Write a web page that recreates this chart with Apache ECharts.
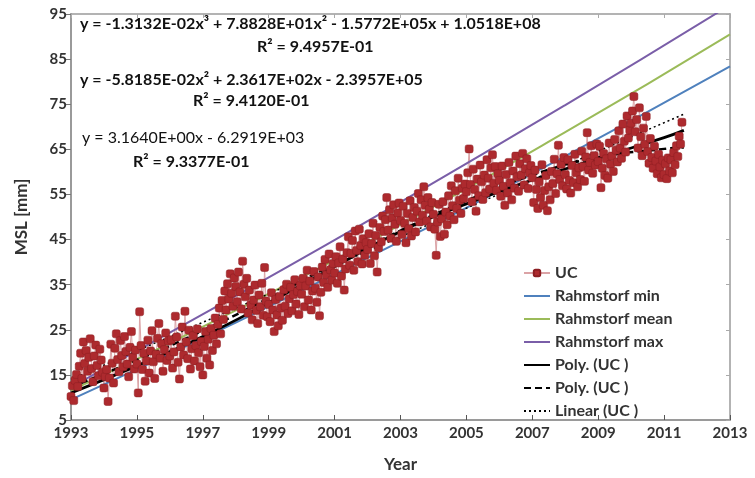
<!DOCTYPE html>
<html>
<head>
<meta charset="utf-8">
<script src="https://cdn.jsdelivr.net/npm/echarts@6/dist/echarts.min.js"></script>
<style>
    html, body { margin: 0; padding: 0; background: #fff; }
    #main { width: 755px; height: 478px; }
</style>
</head>
<body>
<div id="main"></div>
<script>
    // UC series: 24 samples a year from 1993.0
    var ucStart = 1993;
    var ucPerYear = 24;
    var ucValues = [
        10.2, 12.6, 9.3, 13.8, 15.1, 12.4, 16.9, 19.8, 14.2, 22.3, 17.5, 20.4, 15.8, 18.9, 23.0, 16.4, 13.5, 19.2, 21.6, 17.1, 14.8, 20.7, 18.3, 15.6,
        12.1, 14.6, 16.2, 9.1, 14.3, 21.8, 17.6, 13.2, 20.9, 24.1, 18.4, 15.7, 22.6, 19.3, 16.8, 23.5, 20.2, 17.4, 14.6, 21.1, 24.6, 18.9, 16.3, 20.5,
        17.4, 11.0, 29.0, 21.5, 16.2, 19.8, 13.6, 18.1, 22.7, 15.4, 20.3, 24.8, 17.9, 14.2, 19.6, 23.1, 26.4, 18.7, 21.9, 15.8, 20.6, 24.3, 18.2, 22.5,
        19.2, 22.8, 16.5, 20.1, 28.0, 23.4, 17.8, 14.1, 21.2, 25.6, 19.4, 29.1, 22.3, 18.6, 24.9, 16.3, 20.8, 23.7, 18.1, 21.5, 25.2, 19.9, 16.8, 22.4,
        15.0, 21.3, 24.6, 18.7, 22.9, 17.2, 25.3, 20.4, 23.8, 27.6, 21.9, 26.2, 29.8, 24.1, 31.5, 27.3, 33.6, 29.4, 35.2, 31.8, 37.4, 33.1, 30.2, 36.5,
        34.6, 31.2, 37.8, 33.4, 29.6, 40.2, 35.1, 32.3, 36.4, 28.7, 33.8, 30.5, 27.2, 31.6, 34.9, 29.3, 26.4, 32.7, 30.1, 35.3, 28.2, 38.8, 31.4, 27.9,
        30.6, 26.8, 33.2, 29.4, 24.6, 31.7, 28.3, 25.9, 32.4, 29.8, 27.1, 33.9, 30.2, 35.1, 28.6, 31.9, 34.4, 29.2, 32.8, 36.1, 30.7, 33.5, 28.4, 34.8,
        32.9, 36.4, 30.1, 34.7, 38.2, 31.6, 35.8, 29.4, 33.6, 37.9, 34.2, 31.1, 36.7, 28.1, 33.3, 38.9, 35.5, 40.6, 37.2, 34.4, 41.8, 38.3, 36.0, 39.7,
        37.6, 41.2, 35.3, 39.8, 43.4, 36.9, 40.7, 33.8, 38.5, 42.1, 45.6, 39.3, 41.9, 44.8, 38.2, 46.9, 42.6, 40.1, 47.3, 43.7, 39.6, 45.2, 41.5, 44.3,
        42.8, 46.3, 39.7, 44.1, 48.6, 41.4, 45.9, 37.8, 43.2, 47.7, 44.5, 50.2, 46.8, 49.4, 54.3, 47.1, 51.6, 45.3, 49.8, 52.7, 48.4, 44.6, 50.9, 53.1,
        49.2, 46.1, 52.4, 48.6, 44.3, 50.8, 47.4, 53.6, 45.8, 49.9, 52.1, 46.7, 51.3, 55.2, 48.9, 53.8, 50.4, 56.7, 52.6, 49.1, 54.3, 51.7, 47.8, 53.2,
        50.6, 47.3, 41.5, 48.9, 52.8, 45.7, 49.6, 53.4, 46.2, 51.1, 48.3, 54.7, 50.2, 56.9, 52.5, 49.4, 55.8, 51.9, 58.6, 53.7, 50.8, 56.4, 54.1, 57.3,
        55.6, 59.8, 65.1, 57.2, 53.4, 60.6, 56.1, 51.3, 58.4, 54.7, 61.5, 57.8, 53.9, 59.3, 55.4, 62.7, 58.6, 56.2, 60.9, 63.8, 57.5, 61.2, 55.9, 59.6,
        58.1, 54.6, 61.3, 56.8, 52.6, 59.4, 55.3, 62.1, 57.6, 53.8, 60.2, 56.4, 63.5, 58.9, 55.7, 61.8, 59.3, 64.1, 57.1, 60.7, 62.9, 56.3, 59.8, 61.4,
        58.7, 53.2, 60.4, 56.1, 51.9, 57.8, 54.3, 61.6, 52.6, 55.9, 59.2, 51.4, 56.7, 53.8, 60.1, 57.4, 62.8, 55.2, 59.6, 65.9, 58.3, 61.7, 56.9, 63.2,
        59.4, 56.2, 62.7, 58.1, 55.3, 61.4, 57.6, 63.9, 59.8, 56.7, 60.9, 58.3, 64.6, 61.2, 57.9, 63.3, 68.7, 60.4, 62.1, 65.8, 59.7, 63.6, 61.5, 66.2,
        62.3, 65.7, 56.5, 60.8, 64.1, 59.2, 62.9, 58.6, 66.4, 61.7, 63.5, 60.1, 67.2, 64.8, 62.2, 69.1, 65.3, 63.0, 70.6, 66.8, 64.4, 72.4, 67.5, 69.3,
        70.8, 73.5, 76.7, 68.9, 71.6, 65.3, 74.2, 67.8, 63.6, 69.7, 66.1, 72.3, 64.5, 61.9, 67.4, 63.2, 60.8, 65.7, 62.4, 59.6, 63.9, 61.1, 58.7, 62.6,
        59.4, 61.8, 58.5, 63.1, 60.2, 62.7, 59.8, 64.3, 61.6, 65.8, 63.4, 67.9, 66.2, 71.0
    ];

    // Rahmstorf projections
    var rahmYears = [1993, 1998, 2003, 2008, 2013];
    var rahmMin = [9.5, 26.6, 44.6, 63.5, 83.4];
    var rahmMean = [11.5, 29.3, 48.3, 68.8, 90.5];
    var rahmMax = [12.3, 32.5, 53.3, 74.8, 97.0];

    // trend lines
    var fitYears = [1993, 1995, 1997, 1999, 2001, 2003, 2005, 2007, 2009, 2011, 2011.6];
    var polyCubic = [11.0, 17.0, 23.5, 31.0, 39.0, 46.8, 52.9, 58.2, 63.0, 67.6, 69.2];
    var polyQuad = [12.3, 18.3, 24.8, 32.0, 39.6, 47.0, 53.6, 59.3, 63.2, 65.1, 65.4];
    var linYears = [1993, 2011.6];
    var linValues = [14.0, 72.8];

    var xTicks = [1993, 1995, 1997, 1999, 2001, 2003, 2005, 2007, 2009, 2011, 2013];
    var yTicks = [5, 15, 25, 35, 45, 55, 65, 75, 85, 95];

    function pairs(xs, ys) {
        var out = [];
        for (var i = 0; i < ys.length; i++) {
            out.push([xs[i], ys[i]]);
        }
        return out;
    }

    var ucData = [];
    for (var i = 0; i < ucValues.length; i++) {
        ucData.push([ucStart + i / ucPerYear, ucValues[i]]);
    }

    var fontFam = 'Lato, "Open Sans", sans-serif';
    var axisGray = '#9a9a9a';
    // legend entries for plain lines: hide the symbol, keep the line
    function lineItem(name) {
        return { name: name, itemStyle: { opacity: 0 } };
    }

    var myChart = echarts.init(document.getElementById('main'));
    var option = {
        animation: false,
        backgroundColor: '#fff',
        grid: { left: 71, right: 25, top: 14, bottom: 56 },
        legend: {
            orient: 'vertical',
            left: 518,
            top: 259,
            itemWidth: 26,
            itemHeight: 8,
            itemGap: 5,
            textStyle: { fontFamily: fontFam, fontWeight: 'bold', fontSize: 16, color: '#333', lineHeight: 18 },
            data: ['UC', lineItem('Rahmstorf min'), lineItem('Rahmstorf mean'), lineItem('Rahmstorf max'),
                lineItem('Poly. (UC )'), lineItem('Poly. (UC ) '), lineItem('Linear (UC )')]
        },
        xAxis: [{
            type: 'value',
            min: 1993,
            max: 2013,
            name: 'Year',
            nameLocation: 'middle',
            nameGap: 36,
            nameTextStyle: { fontFamily: fontFam, fontWeight: 'bold', fontSize: 17, color: '#333' },
            axisLine: { lineStyle: { color: axisGray, width: 2 } },
            axisTick: { inside: true, length: 5, customValues: xTicks, lineStyle: { color: '#555' } },
            axisLabel: {
                customValues: xTicks,
                formatter: function (v) { return String(v); },
                fontFamily: fontFam, fontWeight: 'bold', fontSize: 15, color: '#333', margin: 6
            },
            splitLine: { show: false }
        }, {
            type: 'value',
            position: 'top',
            min: 1993,
            max: 2013,
            axisLine: { show: true, lineStyle: { color: axisGray, width: 1.5 } },
            axisTick: { show: true, inside: true, length: 4, customValues: xTicks, lineStyle: { color: '#aaa' } },
            axisLabel: { show: false },
            splitLine: { show: false }
        }],
        yAxis: [{
            type: 'value',
            min: 5,
            max: 95,
            name: 'MSL [mm]',
            nameLocation: 'middle',
            nameGap: 41,
            nameTextStyle: { fontFamily: fontFam, fontWeight: 'bold', fontSize: 17, color: '#333' },
            axisLine: { show: true, lineStyle: { color: axisGray, width: 2 } },
            axisTick: { show: true, length: 5, customValues: yTicks, lineStyle: { color: '#777' } },
            axisLabel: {
                customValues: yTicks,
                fontFamily: fontFam, fontWeight: 'bold', fontSize: 15, color: '#333', margin: 4
            },
            splitLine: { show: false }
        }, {
            type: 'value',
            position: 'right',
            min: 5,
            max: 95,
            axisLine: { show: true, lineStyle: { color: axisGray, width: 1.5 } },
            axisTick: { show: true, inside: true, length: 4, customValues: yTicks, lineStyle: { color: '#aaa' } },
            axisLabel: { show: false },
            splitLine: { show: false }
        }],
        series: [{
            name: 'UC',
            type: 'line',
            data: ucData,
            symbol: 'roundRect',
            symbolSize: 8,
            showAllSymbol: true,
            lineStyle: { color: '#dba3a6', width: 1 },
            itemStyle: { color: '#ad2a2e', borderColor: '#8c1e22', borderWidth: 0.5 }
        }, {
            name: 'Rahmstorf min',
            type: 'line',
            data: pairs(rahmYears, rahmMin),
            smooth: true,
            symbol: 'none',
            lineStyle: { color: '#4f81bd', width: 2 },
            itemStyle: { color: '#4f81bd' }
        }, {
            name: 'Rahmstorf mean',
            type: 'line',
            data: pairs(rahmYears, rahmMean),
            smooth: true,
            symbol: 'none',
            lineStyle: { color: '#9bbb59', width: 2 },
            itemStyle: { color: '#9bbb59' }
        }, {
            name: 'Rahmstorf max',
            type: 'line',
            data: pairs(rahmYears, rahmMax),
            smooth: true,
            symbol: 'none',
            lineStyle: { color: '#7a5ea8', width: 2 },
            itemStyle: { color: '#7a5ea8' }
        }, {
            name: 'Poly. (UC )',
            type: 'line',
            data: pairs(fitYears, polyCubic),
            smooth: true,
            symbol: 'none',
            lineStyle: { color: '#000', width: 2.8 },
            itemStyle: { color: '#000' }
        }, {
            name: 'Poly. (UC ) ',
            type: 'line',
            data: pairs(fitYears, polyQuad),
            smooth: true,
            symbol: 'none',
            lineStyle: { color: '#000', width: 2.5, type: [7, 4] },
            itemStyle: { color: '#000' }
        }, {
            name: 'Linear (UC )',
            type: 'line',
            data: pairs(linYears, linValues),
            symbol: 'none',
            lineStyle: { color: '#000', width: 1.5, type: [2, 3] },
            itemStyle: { color: '#000' }
        }],
        graphic: [
            { type: 'text', x: 80, y: 24, style: { text: 'y = -1.3132E-02x³ + 7.8828E+01x² - 1.5772E+05x + 1.0518E+08', font: 'bold 16px ' + fontFam, fill: '#111', verticalAlign: 'middle' } },
            { type: 'text', x: 257, y: 47, style: { text: 'R² = 9.4957E-01', font: 'bold 16px ' + fontFam, fill: '#111', verticalAlign: 'middle' } },
            { type: 'text', x: 80, y: 80, style: { text: 'y = -5.8185E-02x² + 2.3617E+02x - 2.3957E+05', font: 'bold 16px ' + fontFam, fill: '#111', verticalAlign: 'middle' } },
            { type: 'text', x: 193, y: 101, style: { text: 'R² = 9.4120E-01', font: 'bold 16px ' + fontFam, fill: '#111', verticalAlign: 'middle' } },
            { type: 'text', x: 82, y: 138, style: { text: 'y = 3.1640E+00x - 6.2919E+03', font: '16px ' + fontFam, fill: '#111', verticalAlign: 'middle' } },
            { type: 'text', x: 133, y: 162, style: { text: 'R² = 9.3377E-01', font: 'bold 16px ' + fontFam, fill: '#111', verticalAlign: 'middle' } }
        ]
    };
    myChart.setOption(option);
</script>
</body>
</html>
